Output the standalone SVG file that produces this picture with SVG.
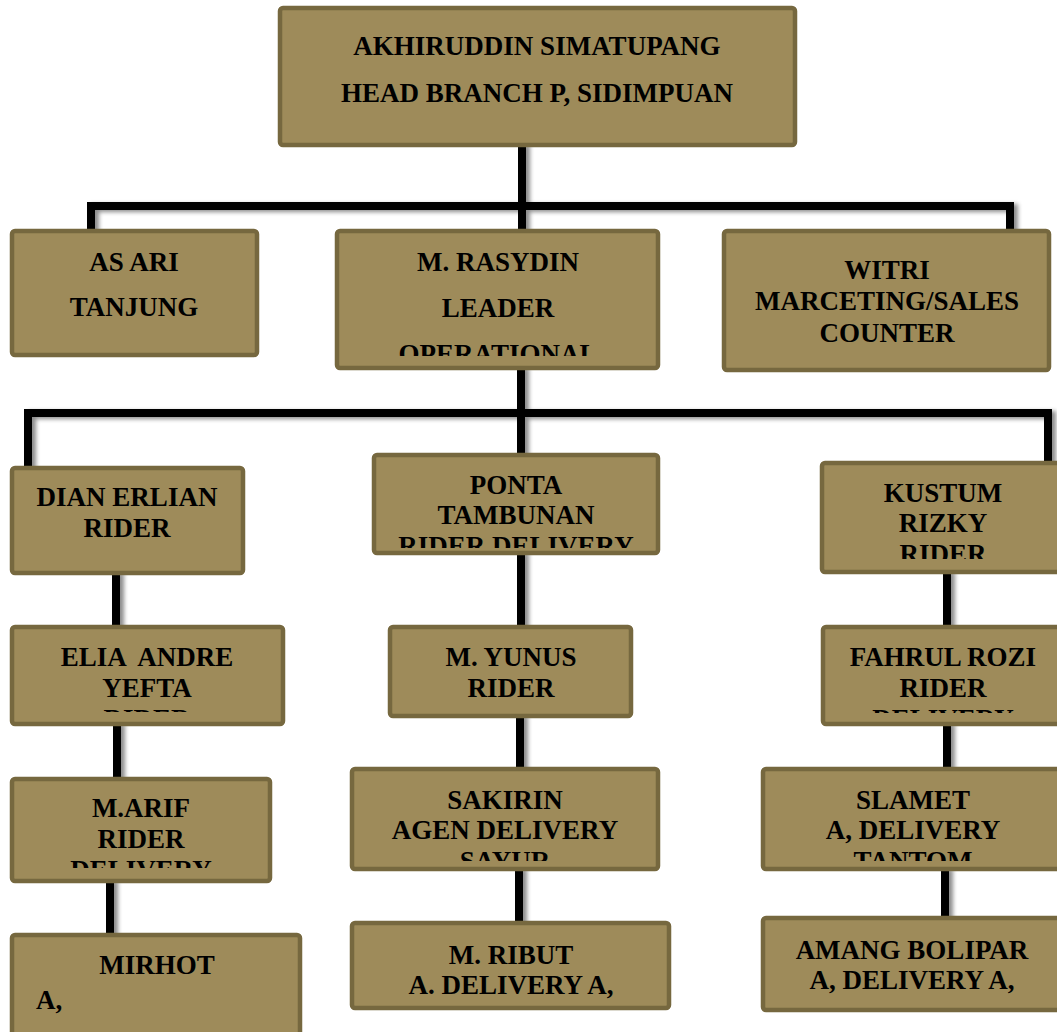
<svg xmlns="http://www.w3.org/2000/svg" width="1057" height="1032" viewBox="0 0 1057 1032">
<style>
.box{fill:#9e8b5a;stroke:#76683f;stroke-width:4.5}
.t{font-family:"Liberation Serif","Times New Roman",serif;font-weight:bold;font-size:27px;fill:#000;text-anchor:middle}
.ln{stroke:#000;stroke-width:8;fill:none;stroke-linecap:square}
</style>
<defs>
<filter id="sh" x="-20%" y="-20%" width="140%" height="140%">
<feDropShadow dx="4" dy="2" stdDeviation="2" flood-color="#000" flood-opacity="0.45"/>
</filter>
<clipPath id="c-ras"><rect x="337" y="231" width="321" height="125"/></clipPath>
<clipPath id="c-pon"><rect x="374" y="455" width="284" height="93"/></clipPath>
<clipPath id="c-kus"><rect x="822" y="463" width="240" height="96"/></clipPath>
<clipPath id="c-eli"><rect x="12" y="627" width="271" height="85"/></clipPath>
<clipPath id="c-fah"><rect x="823" y="627" width="240" height="86"/></clipPath>
<clipPath id="c-ari"><rect x="12" y="779" width="258" height="89"/></clipPath>
<clipPath id="c-sak"><rect x="352" y="769" width="306" height="92"/></clipPath>
<clipPath id="c-sla"><rect x="763" y="769" width="300" height="92"/></clipPath>
</defs>

<g id="connectors" filter="url(#sh)">
<path class="ln" d="M522 147 V206 M91 206 H1010 M91 206 V230 M1010 206 V230 M522 206 V230"/>
<path class="ln" d="M521 370 V413 M28 413 H1048 M28 413 V466 M1048 413 V461 M521 413 V453"/>
<path class="ln" d="M116 575 V625 M521 555 V625 M947 574 V625"/>
<path class="ln" d="M117 726 V777 M520 718 V767 M947 726 V767"/>
<path class="ln" d="M110 883 V933 M519 871 V920 M945 871 V916"/>
</g>

<g id="n-head">
<rect class="box" x="280" y="8" width="515" height="137" rx="3"/>
<text class="t" x="537" y="55">AKHIRUDDIN SIMATUPANG</text>
<text class="t" x="537" y="102">HEAD BRANCH P, SIDIMPUAN</text>
</g>

<g id="n-asari">
<rect class="box" x="12" y="231" width="245" height="124" rx="3"/>
<text class="t" x="134" y="271">AS ARI</text>
<text class="t" x="134" y="316">TANJUNG</text>
</g>

<g id="n-rasydin">
<rect class="box" x="337" y="231" width="321" height="137" rx="3"/>
<g clip-path="url(#c-ras)">
<text class="t" x="498" y="271">M. RASYDIN</text>
<text class="t" x="498" y="317">LEADER</text>
<text class="t" x="498" y="363">OPERATIONAL</text>
</g>
</g>

<g id="n-witri">
<rect class="box" x="724" y="231" width="325" height="139" rx="3"/>
<text class="t" x="887" y="279">WITRI</text>
<text class="t" x="887" y="310">MARCETING/SALES</text>
<text class="t" x="887" y="342">COUNTER</text>
</g>

<g id="n-dian">
<rect class="box" x="12" y="468" width="231" height="105" rx="3"/>
<text class="t" x="127" y="506">DIAN ERLIAN</text>
<text class="t" x="127" y="537">RIDER</text>
</g>

<g id="n-ponta">
<rect class="box" x="374" y="455" width="284" height="98" rx="3"/>
<g clip-path="url(#c-pon)">
<text class="t" x="516" y="494">PONTA</text>
<text class="t" x="516" y="524">TAMBUNAN</text>
<text class="t" x="516" y="555">RIDER DELIVERY</text>
</g>
</g>

<g id="n-kustum">
<rect class="box" x="822" y="463" width="250" height="109" rx="3"/>
<g clip-path="url(#c-kus)">
<text class="t" x="943" y="502">KUSTUM</text>
<text class="t" x="943" y="532">RIZKY</text>
<text class="t" x="943" y="563">RIDER</text>
</g>
</g>

<g id="n-elia">
<rect class="box" x="12" y="627" width="271" height="97" rx="3"/>
<g clip-path="url(#c-eli)">
<text class="t" x="147" y="666" xml:space="preserve">ELIA  ANDRE</text>
<text class="t" x="147" y="697">YEFTA</text>
<text class="t" x="147" y="728">RIDER</text>
</g>
</g>

<g id="n-yunus">
<rect class="box" x="390" y="627" width="241" height="89" rx="3"/>
<text class="t" x="511" y="666">M. YUNUS</text>
<text class="t" x="511" y="697">RIDER</text>
</g>

<g id="n-fahrul">
<rect class="box" x="823" y="627" width="250" height="97" rx="3"/>
<g clip-path="url(#c-fah)">
<text class="t" x="943" y="666">FAHRUL ROZI</text>
<text class="t" x="943" y="697">RIDER</text>
<text class="t" x="943" y="728">DELIVERY</text>
</g>
</g>

<g id="n-arif">
<rect class="box" x="12" y="779" width="258" height="102" rx="3"/>
<g clip-path="url(#c-ari)">
<text class="t" x="141" y="817">M.ARIF</text>
<text class="t" x="141" y="848">RIDER</text>
<text class="t" x="141" y="879">DELIVERY</text>
</g>
</g>

<g id="n-sakirin">
<rect class="box" x="352" y="769" width="306" height="100" rx="3"/>
<g clip-path="url(#c-sak)">
<text class="t" x="505" y="809">SAKIRIN</text>
<text class="t" x="505" y="839">AGEN DELIVERY</text>
<text class="t" x="505" y="870">SAYUR</text>
</g>
</g>

<g id="n-slamet">
<rect class="box" x="763" y="769" width="310" height="100" rx="3"/>
<g clip-path="url(#c-sla)">
<text class="t" x="913" y="809">SLAMET</text>
<text class="t" x="913" y="839">A, DELIVERY</text>
<text class="t" x="913" y="870">TANTOM</text>
</g>
</g>

<g id="n-mirhot">
<rect class="box" x="12" y="935" width="288" height="110" rx="3"/>
<text class="t" x="157" y="974">MIRHOT</text>
<text class="t" x="36" y="1009" style="text-anchor:start">A,</text>
</g>

<g id="n-ribut">
<rect class="box" x="352" y="923" width="317" height="85" rx="3"/>
<text class="t" x="511" y="964">M. RIBUT</text>
<text class="t" x="511" y="994">A. DELIVERY A,</text>
</g>

<g id="n-amang">
<rect class="box" x="763" y="918" width="310" height="92" rx="3"/>
<text class="t" x="912" y="959">AMANG BOLIPAR</text>
<text class="t" x="912" y="989">A, DELIVERY A,</text>
</g>
</svg>
